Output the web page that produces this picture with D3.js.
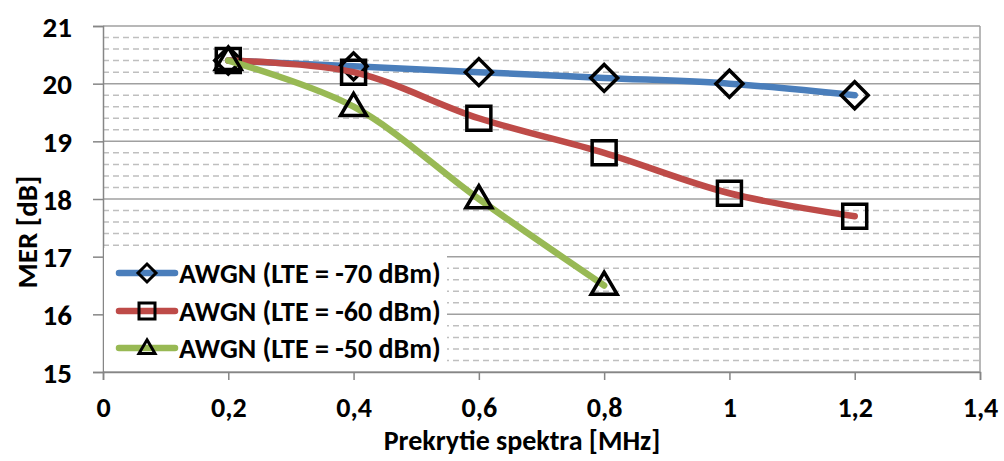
<!DOCTYPE html>
<html>
<head>
<meta charset="utf-8">
<script src="https://cdn.jsdelivr.net/npm/d3@7"></script>
<style>
  html, body { margin: 0; padding: 0; background: #fff; }
  svg text { font-family: Carlito, "Liberation Sans Narrow", Lato, sans-serif; font-weight: bold; fill: #000; }
</style>
</head>
<body>
<svg id="chart" width="1004" height="461"></svg>
<script>
// ---- data ----
const xValues = [0.2, 0.4, 0.6, 0.8, 1.0, 1.2];
const seriesNames = ["AWGN (LTE = -70 dBm)", "AWGN (LTE = -60 dBm)", "AWGN (LTE = -50 dBm)"];
const lte70 = [20.4, 20.3, 20.2, 20.1, 20.0, 19.8];
const lte60 = [20.4, 20.2, 19.4, 18.8, 18.1, 17.7];
const lte50 = [20.4, 19.6, 18.0, 16.5];
const xTicks = [0, 0.2, 0.4, 0.6, 0.8, 1.0, 1.2, 1.4];
const yTicks = [15, 16, 17, 18, 19, 20, 21];
const yMinorTicks = [15.2,15.4,15.6,15.8,16.2,16.4,16.6,16.8,17.2,17.4,17.6,17.8,18.2,18.4,18.6,18.8,19.2,19.4,19.6,19.8,20.2,20.4,20.6,20.8];
const xTitle = "Prekrytie spektra [MHz]";
const yTitle = "MER [dB]";
const colors = ["#4A7EBB", "#BE4B48", "#98B954"];
const markers = ["diamond", "square", "triangle"];

const seriesVals = [lte70, lte60, lte50];
const series = seriesNames.map((name, i) => ({
  name, color: colors[i], marker: markers[i],
  points: seriesVals[i].map((v, j) => ({ x: xValues[j], y: v }))
}));

const locale = d3.formatLocale({ decimal: ",", thousands: " ", grouping: [3], currency: ["", ""] });
const fmt = locale.format("~g");

const svg = d3.select("#chart");
const x = d3.scaleLinear().domain([0, 1.4]).range([103, 980]);
const y = d3.scaleLinear().domain([15, 21]).range([372, 26]);

// minor gridlines
svg.append("g").selectAll("line").data(yMinorTicks).join("line")
  .attr("x1", x(0)).attr("x2", x(1.4))
  .attr("y1", d => y(d)).attr("y2", d => y(d))
  .attr("stroke", "#BFBFBF").attr("stroke-width", 1.5).attr("stroke-dasharray", "6,4");

// major gridlines
svg.append("g").selectAll("line").data(yTicks).join("line")
  .attr("x1", x(0)).attr("x2", x(1.4))
  .attr("y1", d => y(d)).attr("y2", d => y(d))
  .attr("stroke", "#A0A0A0").attr("stroke-width", 1.5);

// right border
svg.append("line").attr("x1", x(1.4)).attr("x2", x(1.4)).attr("y1", y(21)).attr("y2", y(15))
  .attr("stroke", "#A0A0A0").attr("stroke-width", 1.5);

// y axis
const yAxis = svg.append("g").attr("transform", `translate(${x(0)},0)`)
  .call(d3.axisLeft(y).tickValues(yTicks).tickSize(10).tickPadding(21).tickFormat(fmt));
yAxis.select(".domain").attr("stroke", "#868686").attr("stroke-width", 1.5);
yAxis.selectAll(".tick line").attr("stroke", "#868686").attr("stroke-width", 1.5);
yAxis.selectAll(".tick text").style("font-size", "29px").attr("dy", "0.35em");

// x axis
const xAxis = svg.append("g").attr("transform", `translate(0,${y(15)})`)
  .call(d3.axisBottom(x).tickValues(xTicks).tickSize(8).tickPadding(17).tickFormat(fmt));
xAxis.select(".domain").attr("stroke", "#868686").attr("stroke-width", 1.5);
xAxis.selectAll(".tick line").attr("stroke", "#868686").attr("stroke-width", 1.5);
xAxis.selectAll(".tick text").style("font-size", "28px");

// axis titles
svg.append("text").attr("x", 522).attr("y", 450).attr("text-anchor", "middle")
  .style("font-size", "28px").text(xTitle);
svg.append("text").attr("transform", "translate(37,232) rotate(-90)").attr("text-anchor", "middle")
  .style("font-size", "29px").text(yTitle);

// marker path generator
function markerPath(type, s) {
  const h = s / 2;
  if (type === "diamond") return `M0,${-h}L${h},0L0,${h}L${-h},0Z`;
  if (type === "square") return `M${-h},${-h}H${h}V${h}H${-h}Z`;
  const th = s * 0.85;
  return `M0,${-th * 0.6}L${h},${th * 0.4}L${-h},${th * 0.4}Z`;
}
const markerSize = { diamond: 27, square: 24, triangle: 26 };

const line = d3.line().x(d => x(d.x)).y(d => y(d.y)).curve(d3.curveCatmullRom.alpha(0.5));

series.forEach(s => {
  svg.append("path").datum(s.points).attr("d", line)
    .attr("fill", "none").attr("stroke", s.color).attr("stroke-width", 6.5)
    .attr("stroke-linecap", "round").attr("stroke-linejoin", "round");
  svg.append("g").selectAll("path").data(s.points).join("path")
    .attr("transform", d => `translate(${x(d.x)},${y(d.y)})`)
    .attr("d", markerPath(s.marker, markerSize[s.marker]))
    .attr("fill", "none").attr("stroke", "#000").attr("stroke-width", 3.5)
    .attr("stroke-linejoin", "miter");
});

// legend
const lg = svg.append("g");
lg.append("rect").attr("x", 104).attr("y", 248).attr("width", 343).attr("height", 123).attr("fill", "#fff");
const legendY = [273, 311, 348];
series.forEach((s, i) => {
  const g = lg.append("g").attr("transform", `translate(0,${legendY[i]})`);
  g.append("line").attr("x1", 119).attr("x2", 175).attr("y1", 0).attr("y2", 0)
    .attr("stroke", s.color).attr("stroke-width", 6.5).attr("stroke-linecap", "round");
  g.append("path").attr("transform", "translate(147,0)")
    .attr("d", markerPath(s.marker, s.marker === "diamond" ? 18 : 16))
    .attr("fill", "none").attr("stroke", "#000").attr("stroke-width", 3);
  g.append("text").attr("x", 179).attr("y", 0).attr("dy", "0.35em")
    .style("font-size", "28px").text(s.name);
});
</script>
</body>
</html>
